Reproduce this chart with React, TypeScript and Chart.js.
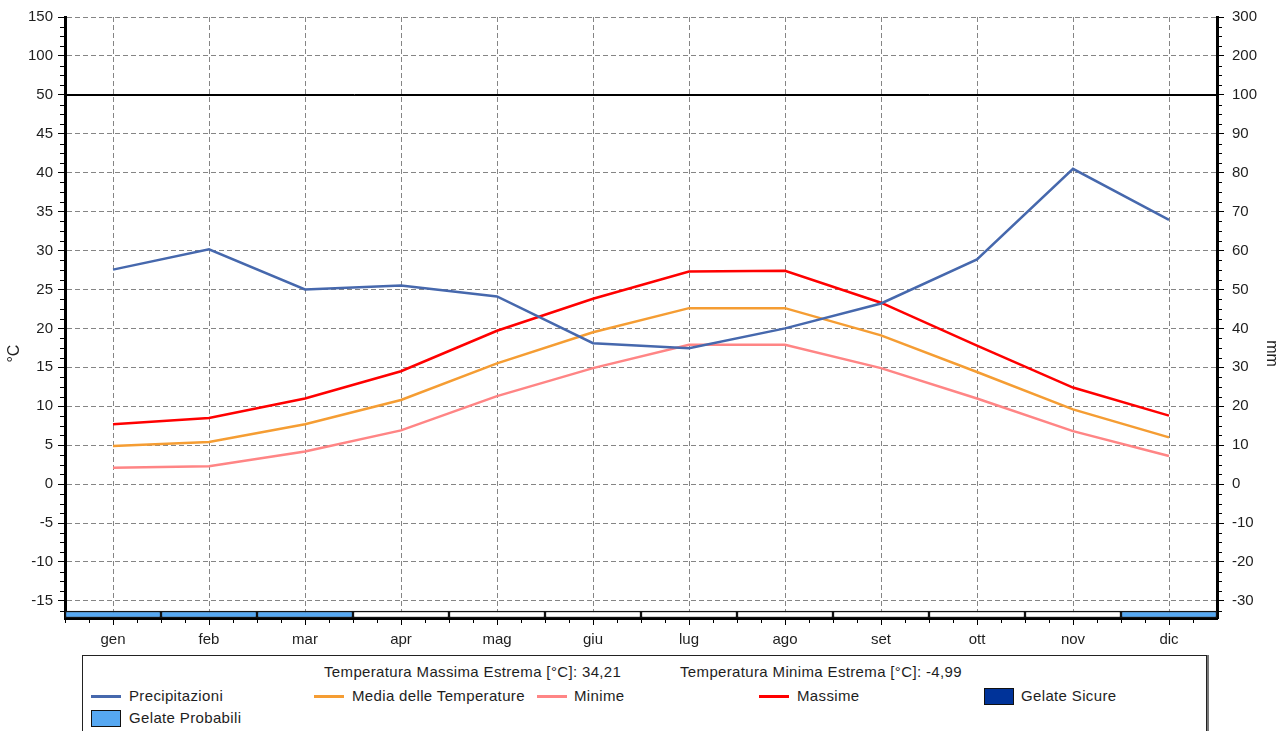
import React, { useEffect, useRef } from "react";
import { Chart, registerables } from "chart.js";

Chart.register(...registerables);

// ---------- data ----------
const months = ["gen", "feb", "mar", "apr", "mag", "giu", "lug", "ago", "set", "ott", "nov", "dic"];
const precipitazioni = [55.1, 60.3, 50.0, 51.0, 48.2, 36.2, 34.9, 40.0, 46.4, 57.7, 81.0, 67.9];
const mediaTemperature = [4.9, 5.4, 7.7, 10.8, 15.5, 19.5, 22.6, 22.6, 19.1, 14.4, 9.6, 6.0];
const minime = [2.1, 2.3, 4.2, 6.9, 11.3, 14.9, 17.9, 17.9, 14.9, 11.0, 6.8, 3.6];
const massime = [7.7, 8.5, 11.0, 14.5, 19.7, 23.8, 27.3, 27.4, 23.3, 17.8, 12.4, 8.8];
const gelateProbabili = [1, 1, 1, 0, 0, 0, 0, 0, 0, 0, 0, 1];
const gelateSicure = [0, 0, 0, 0, 0, 0, 0, 0, 0, 0, 0, 0];
const tempTicks = [-15, -10, -5, 0, 5, 10, 15, 20, 25, 30, 35, 40, 45, 50, 100, 150];
const mmTicks = [-30, -20, -10, 0, 10, 20, 30, 40, 50, 60, 70, 80, 90, 100, 200, 300];
const tempMassimaEstrema = "34,21";
const tempMinimaEstrema = "-4,99";

// ---------- axis configuration (broken axes) ----------
const TEMP_BREAK = 50;
const MM_BREAK = 100;
const TEMP_MIN = -17.2;
const TEMP_TOP = 150;
const MM_TOP = 300;
const BAND_TOP = -16.3;
const toVT = (t: number) => (t <= TEMP_BREAK ? t : TEMP_BREAK + (t - TEMP_BREAK) / 10);
const toVM = (m: number) => (m <= MM_BREAK ? m : MM_BREAK + (m - MM_BREAK) / 10);

// ---------- styles ----------
const FONT = '"Liberation Sans", Arial, sans-serif';
const TXT = "#1e1e1e";
const GRID = "#858585";
const C_PREC = "#4668ad";
const C_MEDIA = "#f59d33";
const C_MIN = "#ff8585";
const C_MAX = "#ff0000";
const C_PROB = "#56a8f2";
const C_SICURE = "#003399";

const frostColors = months.map((_, i) =>
  gelateSicure[i] ? C_SICURE : gelateProbabili[i] ? C_PROB : "#ffffff"
);

const decorPlugin = {
  id: "decor",
  beforeDatasetsDraw(chart: any) {
    const { ctx, chartArea, scales } = chart;
    const py = Math.round(scales.y.getPixelForValue(TEMP_BREAK)) + 0.5;
    ctx.save();
    ctx.strokeStyle = "#000";
    ctx.lineWidth = 1;
    ctx.setLineDash([]);
    ctx.beginPath();
    ctx.moveTo(chartArea.left, py);
    ctx.lineTo(chartArea.right, py);
    ctx.stroke();
    ctx.restore();
  },
  afterDraw(chart: any) {
    const { ctx, chartArea, scales } = chart;
    const y = scales.y;
    const y2 = scales.y2;
    const x = scales.x;
    ctx.save();
    ctx.strokeStyle = "#000";
    ctx.lineWidth = 1;
    ctx.setLineDash([]);
    ctx.beginPath();
    // left minor ticks
    const leftVals: number[] = [];
    for (let v = TEMP_BREAK; v >= y.min; v -= 1.25) if (v % 5 !== 0) leftVals.push(v);
    for (let v = TEMP_BREAK + 1.25; v < y.max; v += 1.25) if (v % 5 !== 0) leftVals.push(v);
    leftVals.forEach((v) => {
      const py = Math.round(y.getPixelForValue(v)) + 0.5;
      ctx.moveTo(chartArea.left - 5, py);
      ctx.lineTo(chartArea.left - 1, py);
    });
    // right minor ticks
    const rightVals: number[] = [];
    for (let v = MM_BREAK; v >= y2.min; v -= 2.5) if (v % 10 !== 0) rightVals.push(v);
    for (let v = MM_BREAK + 2.5; v < y2.max; v += 2.5) if (v % 10 !== 0) rightVals.push(v);
    rightVals.forEach((v) => {
      const py = Math.round(y2.getPixelForValue(v)) + 0.5;
      ctx.moveTo(chartArea.right + 1, py);
      ctx.lineTo(chartArea.right + 5, py);
    });
    // bottom minor ticks
    const w = x.width / months.length;
    months.forEach((_, i) => {
      const c = x.getPixelForValue(i);
      [-w / 2, -w / 4, w / 4].forEach((d) => {
        const px = Math.round(c + d) + 0.5;
        ctx.moveTo(px, chartArea.bottom + 1);
        ctx.lineTo(px, chartArea.bottom + 5);
      });
    });
    ctx.stroke();
    // axis titles
    ctx.fillStyle = TXT;
    ctx.font = `16px ${FONT}`;
    ctx.textAlign = "center";
    ctx.textBaseline = "middle";
    const ty = chartArea.top + (chartArea.bottom - chartArea.top) * 0.56;
    ctx.save();
    ctx.translate(15, ty);
    ctx.rotate(-Math.PI / 2);
    ctx.fillText("°C", 0, 0);
    ctx.restore();
    ctx.save();
    ctx.translate(chart.width - 11, ty);
    ctx.rotate(Math.PI / 2);
    ctx.fillText("mm", 0, 0);
    ctx.restore();
    ctx.restore();
  },
};

const lineDs = (label: string, data: number[], color: string, axis: string) => ({
  type: "line" as const,
  label,
  data,
  yAxisID: axis,
  borderColor: color,
  backgroundColor: color,
  borderWidth: 2.5,
  pointRadius: 0,
  tension: 0,
  fill: false,
  order: 1,
});

const tickFont = { family: FONT, size: 15 };

export default function App() {
  const canvasRef = useRef<HTMLCanvasElement>(null);

  useEffect(() => {
    const canvas = canvasRef.current;
    if (!canvas) return;
    const chart = new Chart(canvas, {
      type: "line",
      data: {
        labels: months,
        datasets: [
          lineDs("Precipitazioni", precipitazioni, C_PREC, "y2"),
          lineDs("Media delle Temperature", mediaTemperature, C_MEDIA, "y"),
          lineDs("Minime", minime, C_MIN, "y"),
          lineDs("Massime", massime, C_MAX, "y"),
          {
            type: "bar",
            label: "Gelate",
            data: months.map(() => [TEMP_MIN, BAND_TOP]),
            yAxisID: "y",
            backgroundColor: frostColors,
            borderColor: "#111",
            borderWidth: 1.5,
            borderSkipped: false,
            barPercentage: 1,
            categoryPercentage: 1,
            order: 10,
          } as any,
        ],
      },
      options: {
        animation: false,
        responsive: false,
        devicePixelRatio: 1,
        layout: { padding: { top: 16, left: 0, right: 0, bottom: 0 } },
        plugins: { legend: { display: false }, tooltip: { enabled: false } },
        scales: {
          x: {
            type: "category",
            offset: true,
            grid: {
              offset: false,
              color: GRID,
              lineWidth: 1,
              tickLength: 7,
              tickColor: "#000",
              tickBorderDash: [],
              drawTicks: true,
            },
            border: { display: true, width: 3, color: "#000", dash: [5, 3] },
            ticks: { color: TXT, font: tickFont, padding: 6, maxRotation: 0, autoSkip: false },
            afterFit: (s: any) => {
              s.height = 32;
            },
          },
          y: {
            position: "left",
            min: TEMP_MIN,
            max: toVT(TEMP_TOP),
            afterBuildTicks: (s: any) => {
              s.ticks = tempTicks.map((t) => ({ value: toVT(t) }));
            },
            ticks: {
              color: TXT,
              font: tickFont,
              padding: 5,
              callback: (_v: any, i: number) => String(tempTicks[i]),
            },
            grid: {
              color: (c: any) => (c.tick && c.tick.value === TEMP_BREAK ? "#000" : GRID),
              lineWidth: 1,
              tickLength: 7,
              tickColor: "#000",
              tickBorderDash: [],
            },
            border: {
              display: true,
              width: 3,
              color: "#000",
              dash: (c: any) => (c.tick && c.tick.value === TEMP_BREAK ? [] : [5, 3]),
            },
            afterFit: (s: any) => {
              s.width = 65;
            },
          },
          y2: {
            position: "right",
            min: TEMP_MIN * 2,
            max: toVM(MM_TOP),
            afterBuildTicks: (s: any) => {
              s.ticks = mmTicks.map((m) => ({ value: toVM(m) }));
            },
            ticks: {
              color: TXT,
              font: tickFont,
              padding: 8,
              callback: (_v: any, i: number) => String(mmTicks[i]),
            },
            grid: {
              drawOnChartArea: false,
              tickLength: 7,
              tickColor: "#000",
              tickBorderDash: [],
            },
            border: { display: true, width: 3, color: "#000" },
            afterFit: (s: any) => {
              s.width = 65;
            },
          },
        },
      } as any,
      plugins: [decorPlugin],
    } as any);
    return () => chart.destroy();
  }, []);

  const text = (left: number, cy: number, s: string) => (
    <div
      style={{
        position: "absolute",
        left,
        top: cy - 9,
        lineHeight: "18px",
        height: 18,
        whiteSpace: "nowrap",
        letterSpacing: "0.35px",
      }}
    >
      {s}
    </div>
  );
  const lineSample = (left: number, cy: number, color: string) => (
    <div
      style={{
        position: "absolute",
        left,
        top: cy - 1,
        width: 30,
        height: 2.5,
        background: color,
      }}
    />
  );
  const boxSample = (left: number, cy: number, color: string) => (
    <div
      style={{
        position: "absolute",
        left,
        top: cy - 8,
        width: 28,
        height: 15,
        background: color,
        border: "1px solid #111",
      }}
    />
  );

  return (
    <div
      style={{
        position: "fixed",
        left: 0,
        top: 0,
        width: 1282,
        height: 731,
        overflow: "hidden",
        background: "#fff",
        fontFamily: FONT,
        color: TXT,
        fontSize: 15,
      }}
    >
      <canvas
        ref={canvasRef}
        width={1282}
        height={650}
        style={{ position: "absolute", left: 0, top: 0, width: 1282, height: 650 }}
      />
      <div
        style={{
          position: "absolute",
          left: 82,
          top: 655,
          width: 1123,
          height: 100,
          border: "1px solid #222",
          boxShadow: "2px 0 0 #777",
          background: "#fff",
        }}
      >
        {text(241, 16, `Temperatura Massima Estrema [°C]: ${tempMassimaEstrema}`)}
        {text(597, 16, `Temperatura Minima Estrema [°C]: ${tempMinimaEstrema}`)}
        {lineSample(8, 40, C_PREC)}
        {text(46, 40, "Precipitazioni")}
        {lineSample(231, 40, C_MEDIA)}
        {text(269, 40, "Media delle Temperature")}
        {lineSample(454, 40, C_MIN)}
        {text(491, 40, "Minime")}
        {lineSample(676, 40, C_MAX)}
        {text(714, 40, "Massime")}
        {boxSample(901, 40, C_SICURE)}
        {text(938, 40, "Gelate Sicure")}
        {boxSample(8, 62, C_PROB)}
        {text(46, 62, "Gelate Probabili")}
      </div>
    </div>
  );
}
